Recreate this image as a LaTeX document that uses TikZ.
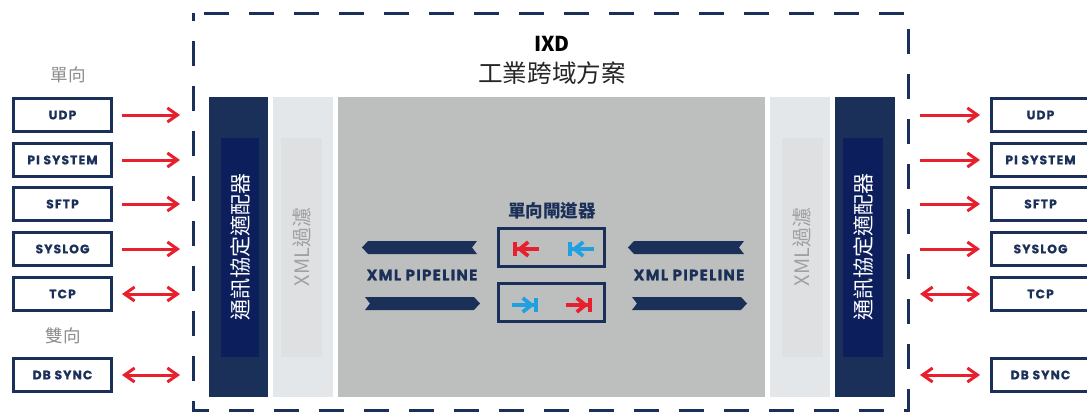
\documentclass[tikz,border=0pt]{standalone}
\usepackage{fontspec}
\setmainfont{Poppins}
\newfontfamily\cjk{Noto Sans CJK TC}
\newfontfamily\lblfont[LetterSpace=9, BoldFeatures={FakeBold=0.8}]{Poppins}
\usetikzlibrary{arrows.meta,positioning}
\definecolor{IXDnavy}{RGB}{27,48,88}
\definecolor{IXDdeep}{RGB}{12,31,92}
\definecolor{IXDred}{RGB}{232,32,46}
\definecolor{IXDblue}{RGB}{30,160,225}
\definecolor{IXDgray}{RGB}{189,190,190}
\definecolor{IXDlight}{RGB}{227,231,233}
\definecolor{IXDlight2}{RGB}{223,224,225}
\definecolor{IXDtext}{RGB}{140,140,140}
\definecolor{IXDxml}{RGB}{160,160,160}
\tikzset{
  protobox/.style={draw=IXDnavy, line width=0.9mm, minimum width=29.4mm, minimum height=9.9mm, inner sep=0pt, text=IXDnavy, font=\lblfont\bfseries\fontsize{10.5}{12}\selectfont},
  uniarrow/.style={draw=IXDred, line width=0.9mm, -{Straight Barb[length=3mm,width=4.2mm]}},
  biarrow/.style={draw=IXDred, line width=0.9mm, {Straight Barb[length=3mm,width=4.2mm]}-{Straight Barb[length=3mm,width=4.2mm]}},
  gatearrow/.style={line width=1.1mm, -{Straight Barb[length=2.6mm,width=4.2mm]Bar[width=4.2mm]}},
  pipetext/.style={text=IXDnavy, font=\lblfont\bfseries\fontsize{12.8}{14}\selectfont},
}
% ribbons: x from, x to, y top, y bottom
\newcommand{\pipeleft}[4]{
  \fill[IXDnavy] (#1,{(#3+#4)/2}) -- ({#1+6},#3) -- (#2,#3) -- ({#2-5},{(#3+#4)/2}) -- (#2,#4) -- ({#1+6},#4) -- cycle;
}
\newcommand{\piperight}[4]{
  \fill[IXDnavy] (#1,#3) -- ({#2-6},#3) -- (#2,{(#3+#4)/2}) -- ({#2-6},#4) -- (#1,#4) -- ({#1+5},{(#3+#4)/2}) -- cycle;
}
\begin{document}
\begin{tikzpicture}[x=0.3mm, y=-0.3mm]
\useasboundingbox (0,0) rectangle (1087,412);
\clip (0,0) rectangle (1087,412);
%Frame
\draw[IXDnavy, line width=0.9mm, dash pattern=on 7.5mm off 6mm, dash phase=5mm] (193,13) rectangle (908,410);
\coordinate (frameL) at (193,0);
\coordinate (frameR) at (908,0);
\node[font=\cjk\bfseries\fontsize{17.5}{19}\selectfont] (title) at (552,44) {IXD};
\node[font=\cjk\fontsize{21}{24}\selectfont, text=black!85] (subtitle) at (552,73) {工業跨域方案};
%Panels
\fill[IXDnavy] (209,97) rectangle (268,397);
\fill[IXDdeep] (221,138) rectangle (259,357);
\fill[IXDlight] (273,97) rectangle (333,397);
\fill[IXDlight2] (281,138) rectangle (322,357);
\fill[IXDgray] (338,97) rectangle (765,397);
\fill[IXDlight] (770,97) rectangle (830,397);
\fill[IXDlight2] (782,138) rectangle (823,357);
\fill[IXDnavy] (835,97) rectangle (895,397);
\fill[IXDdeep] (843,138) rectangle (883,357);
\node[rotate=90, text=white, font=\cjk\fontsize{18}{20}\selectfont] (adaptL) at (240,247) {通訊協定適配器};
\node[rotate=90, text=IXDxml, font=\cjk\fontsize{17}{19}\selectfont] (xmlL) at (302,247) {XML過濾};
\node[rotate=90, text=IXDxml, font=\cjk\fontsize{17}{19}\selectfont] (xmlR) at (802,247) {XML過濾};
\node[rotate=90, text=white, font=\cjk\fontsize{18}{20}\selectfont] (adaptR) at (863,247) {通訊協定適配器};
%Gateway
\node[text=IXDnavy, font=\cjk\bfseries\fontsize{15}{17}\selectfont] (gate) at (552,211) {單向閘道器};
\node[draw=IXDnavy, line width=0.9mm, minimum width=31.8mm, minimum height=11.4mm] (gateup) at (551.5,247.5) {};
\node[draw=IXDnavy, line width=0.9mm, minimum width=31.8mm, minimum height=11.4mm] (gatedown) at (551.5,302.5) {};
\draw[gatearrow, IXDred] (539,249) -- (513,249);
\draw[gatearrow, IXDblue] (594,249) -- (568,249);
\draw[gatearrow, IXDblue] (512,305) -- (538,305);
\draw[gatearrow, IXDred] (566,305) -- (592,305);
%Pipelines
\pipeleft{362}{477}{241}{254}
\piperight{365}{480}{297}{310}
\pipeleft{628}{744}{241}{254}
\piperight{632}{747}{297}{310}
\node[pipetext] (pipeL) at (422,275) {XML PIPELINE};
\node[pipetext] (pipeR) at (689,275) {XML PIPELINE};
%Left side
\node[text=IXDtext, font=\cjk\fontsize{15}{17}\selectfont] (oneL) at (68,75) {單向};
\node[text=IXDtext, font=\cjk\fontsize{15}{17}\selectfont] (twoL) at (63,336) {雙向};
\node[protobox] (udpL) at (62.5,115) {UDP};
\node[protobox] (piL) at (62.5,160) {PI SYSTEM};
\node[protobox] (sftpL) at (62.5,204) {SFTP};
\node[protobox] (syslogL) at (62.5,249) {SYSLOG};
\node[protobox] (tcpL) at (62.5,294) {TCP};
\node[protobox] (dbL) at (62.5,375) {DB SYNC};
\draw[uniarrow, shorten <=2.7mm, shorten >=3.9mm] (udpL.east) -- (udpL -| frameL);
\draw[uniarrow, shorten <=2.7mm, shorten >=3.9mm] (piL.east) -- (piL -| frameL);
\draw[uniarrow, shorten <=2.7mm, shorten >=3.9mm] (sftpL.east) -- (sftpL -| frameL);
\draw[uniarrow, shorten <=2.7mm, shorten >=3.9mm] (syslogL.east) -- (syslogL -| frameL);
\draw[biarrow, shorten <=2.7mm, shorten >=3.9mm] (tcpL.east) -- (tcpL -| frameL);
\draw[biarrow, shorten <=2.7mm, shorten >=3.9mm] (dbL.east) -- (dbL -| frameL);
%Right side
\node[protobox] (udpR) at (1040.5,115) {UDP};
\node[protobox] (piR) at (1040.5,160) {PI SYSTEM};
\node[protobox] (sftpR) at (1040.5,204) {SFTP};
\node[protobox] (syslogR) at (1040.5,249) {SYSLOG};
\node[protobox] (tcpR) at (1040.5,294) {TCP};
\node[protobox] (dbR) at (1040.5,375) {DB SYNC};
\draw[uniarrow, shorten <=3.6mm, shorten >=3mm] (udpR -| frameR) -- (udpR.west);
\draw[uniarrow, shorten <=3.6mm, shorten >=3mm] (piR -| frameR) -- (piR.west);
\draw[uniarrow, shorten <=3.6mm, shorten >=3mm] (sftpR -| frameR) -- (sftpR.west);
\draw[uniarrow, shorten <=3.6mm, shorten >=3mm] (syslogR -| frameR) -- (syslogR.west);
\draw[biarrow, shorten <=3.6mm, shorten >=3mm] (tcpR -| frameR) -- (tcpR.west);
\draw[biarrow, shorten <=3.6mm, shorten >=3mm] (dbR -| frameR) -- (dbR.west);
\end{tikzpicture}
\end{document}
